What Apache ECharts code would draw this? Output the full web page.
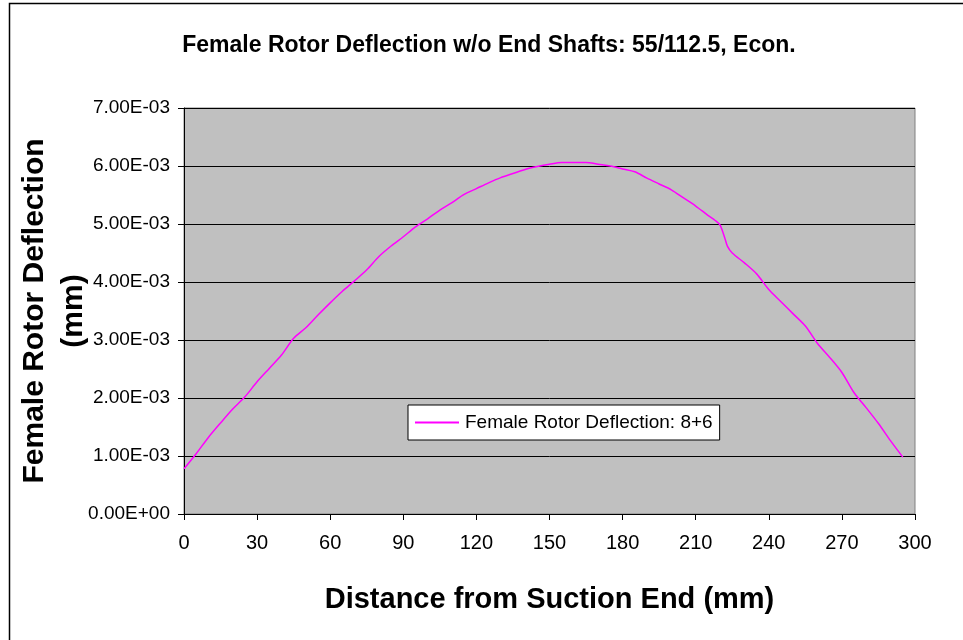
<!DOCTYPE html>
<html>
<head>
<meta charset="utf-8">
<script src="https://cdn.jsdelivr.net/npm/echarts@6/dist/echarts.min.js"></script>
<style>
  html, body { margin: 0; padding: 0; background: #fff; }
  #pic { width: 963px; height: 640px; }
</style>
</head>
<body>
<div id="pic"></div>
<script>
// distance from suction end (mm)
var distance = [0, 5, 10, 15, 20, 25, 30, 35, 40, 45, 50, 55, 60, 65, 70, 75, 80, 85, 90, 95,
  100, 105, 110, 115, 120, 125, 130, 135, 140, 145, 150, 155, 160, 165, 170, 175, 180, 185, 190, 195,
  200, 205, 210, 215, 218, 220, 222, 223, 225, 230, 235, 240, 245, 250, 255, 260, 265, 270, 275, 280,
  285, 290, 295];
// deflection (mm)
var deflection = [0.00078, 0.00104, 0.00132, 0.00157, 0.00181, 0.00202, 0.00228, 0.00251, 0.00274, 0.00303,
  0.00321, 0.00343, 0.00364, 0.00384, 0.00402, 0.00421, 0.00444, 0.00462, 0.00478, 0.00495,
  0.00509, 0.00524, 0.00537, 0.00551, 0.00561, 0.00571, 0.00580, 0.00587, 0.00594, 0.00599,
  0.00603, 0.00606, 0.00606, 0.00606, 0.00603, 0.00600, 0.00595, 0.00590, 0.00579, 0.00569,
  0.00559, 0.00545, 0.00531, 0.00515, 0.00506, 0.00498, 0.00475, 0.00462, 0.00450, 0.00433,
  0.00414, 0.00387, 0.00366, 0.00345, 0.00324, 0.00294, 0.00270, 0.00244, 0.00209, 0.00183,
  0.00156, 0.00126, 0.00098];
var seriesName = 'Female Rotor Deflection: 8+6';
var yTitle = ['Female Rotor Deflection', '(mm)'];

var points = [];
for (var i = 0; i < distance.length; i++) {
  points.push([distance[i], deflection[i]]);
}

function sci(v) {
  if (Math.abs(v) < 1e-12) return '0.00E+00';
  var s = v.toExponential(2).split('e');
  var e = parseInt(s[1], 10);
  var sign = e < 0 ? '-' : '+';
  e = Math.abs(e);
  return s[0] + 'E' + sign + (e < 10 ? '0' + e : e);
}

var chart = echarts.init(document.getElementById('pic'));
var font = 'Liberation Sans, Arial, sans-serif';
var yNameStyle = { fontSize: 30, fontWeight: 'bold', fill: '#000', fontFamily: font, align: 'center', verticalAlign: 'middle' };
var option = {
  backgroundColor: '#fff',
  animation: false,
  textStyle: { fontFamily: font },
  title: {
    text: 'Female Rotor Deflection w/o End Shafts: 55/112.5, Econ.',
    left: 484,
    top: 29,
    textAlign: 'center',
    textStyle: { fontSize: 23, fontWeight: 'bold', color: '#000', fontFamily: font }
  },
  graphic: [{
    // chart frame: only top and left edges are inside the picture
    type: 'polyline',
    shape: { points: [[9.5, 640], [9.5, 3.5], [963, 3.5]] },
    style: { fill: 'none', stroke: '#000', lineWidth: 1.5 },
    silent: true
  }, {
    type: 'text',
    x: 35, y: 311,
    rotation: Math.PI / 2,
    style: Object.assign({ text: yTitle[0] }, yNameStyle),
    silent: true
  }, {
    type: 'text',
    x: 74, y: 311,
    rotation: Math.PI / 2,
    style: Object.assign({ text: yTitle[1] }, yNameStyle),
    silent: true
  }],
  grid: {
    left: 184,
    right: 48,
    top: 108,
    bottom: 126,
    containLabel: false,
    outerBoundsMode: 'none',
    show: true,
    backgroundColor: '#C0C0C0',
    borderColor: '#808080',
    borderWidth: 1
  },
  legend: {
    left: 408,
    top: 405,
    backgroundColor: '#fff',
    borderColor: '#000',
    borderWidth: 1,
    borderRadius: 0,
    padding: [8, 7, 8, 7],
    icon: 'rect',
    itemWidth: 44,
    itemHeight: 2,
    itemGap: 4,
    textStyle: { fontSize: 19, color: '#000', fontFamily: font, padding: [0, 0, 0, 1] },
    data: [seriesName]
  },
  xAxis: {
    type: 'value',
    min: 0,
    max: 300,
    interval: 30,
    name: 'Distance from Suction End (mm)',
    nameLocation: 'middle',
    nameGap: 71,
    nameTextStyle: { fontSize: 29, fontWeight: 'bold', color: '#000', fontFamily: font },
    axisLine: { show: true, onZero: false, lineStyle: { color: '#000', width: 1 } },
    axisTick: { show: true, inside: false, length: 6, lineStyle: { color: '#000' } },
    axisLabel: { fontSize: 20, color: '#000', margin: 19 },
    splitLine: { show: false }
  },
  yAxis: {
    type: 'value',
    min: 0,
    max: 0.007,
    interval: 0.001,
    axisLine: { show: true, lineStyle: { color: '#000', width: 1 } },
    axisTick: { show: true, inside: false, length: 6, lineStyle: { color: '#000' } },
    axisLabel: { fontSize: 19, color: '#000', margin: 14, formatter: sci },
    splitLine: { show: true, lineStyle: { color: '#000', width: 1 } }
  },
  series: [{
    name: seriesName,
    type: 'line',
    data: points,
    symbol: 'none',
    smooth: 0.3,
    lineStyle: { color: '#FF00FF', width: 1.5 },
    itemStyle: { color: '#FF00FF' }
  }]
};
chart.setOption(option);
</script>
</body>
</html>
